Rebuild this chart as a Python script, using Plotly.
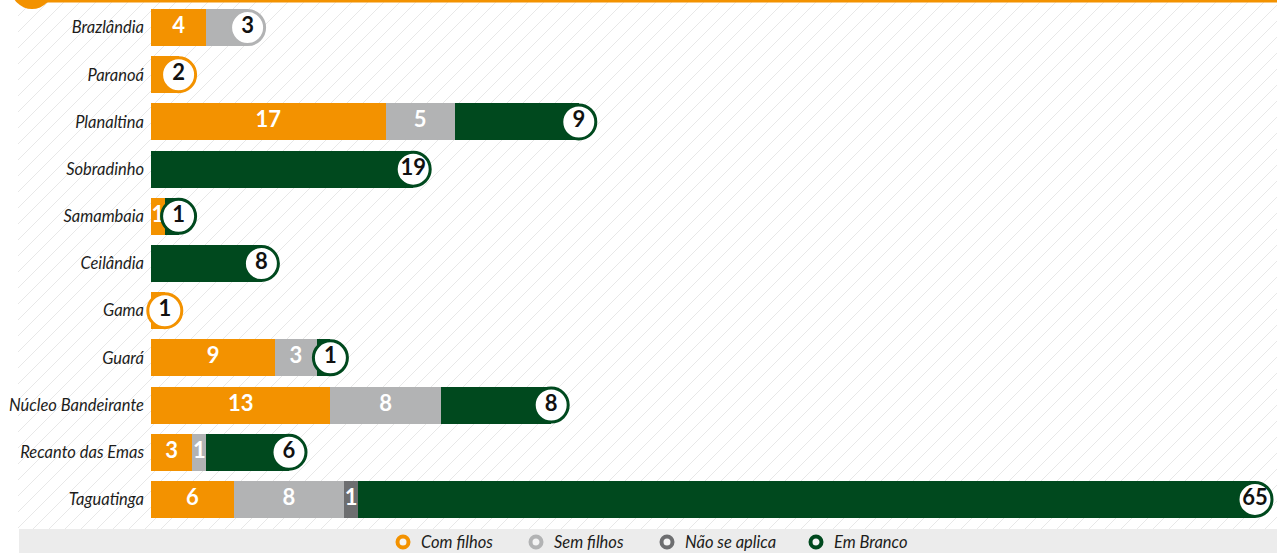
import plotly.graph_objects as go

# ── Dados ────────────────────────────────────────────────────────────────────
categorias = ["Brazlândia", "Paranoá", "Planaltina", "Sobradinho", "Samambaia",
              "Ceilândia", "Gama", "Guará", "Núcleo Bandeirante",
              "Recanto das Emas", "Taguatinga"]
com_filhos    = [4, 2, 17, 0, 1, 0, 1, 9, 13, 3, 6]
sem_filhos    = [3, 0, 5, 0, 0, 0, 0, 3, 8, 1, 8]
nao_se_aplica = [0, 0, 0, 0, 0, 0, 0, 0, 0, 0, 1]
em_branco     = [0, 0, 9, 19, 1, 8, 0, 1, 8, 6, 65]

series = [
    ("Com filhos", com_filhos, "#f39200"),
    ("Sem filhos", sem_filhos, "#b2b3b4"),
    ("Não se aplica", nao_se_aplica, "#6d6e70"),
    ("Em Branco", em_branco, "#00491e"),
]

# ── Geometria (px) ───────────────────────────────────────────────────────────
W, H = 1277, 553
L, R, T, B = 151, 0, 4, 30
PW, PH = W - L - R, H - T - B
FONT = "Lato"


def px(x):
    return (x - L) / PW


def py(y):
    return (H - B - y) / PH


fig = go.Figure()

for nome, vals, cor in series:
    fig.add_trace(go.Bar(
        y=categorias, x=vals, orientation="h", name=nome,
        marker=dict(color=cor, line_width=0), width=0.785,
        showlegend=False, hoverinfo="skip",
    ))

# rótulos dentro dos segmentos + círculo no fim da barra
seg_x, seg_y, seg_t = [], [], []
fim_x, fim_y, fim_t, fim_c = [], [], [], []
for i, cat in enumerate(categorias):
    vals = [s[1][i] for s in series]
    ult = max(k for k, v in enumerate(vals) if v > 0)
    ini = 0
    for k, v in enumerate(vals):
        if v > 0 and k != ult:
            seg_x.append(ini + v / 2)
            seg_y.append(cat)
            seg_t.append(str(v))
        ini += v
    fim_x.append(ini)
    fim_y.append(cat)
    fim_t.append(str(vals[ult]))
    fim_c.append(series[ult][2])

fig.add_trace(go.Scatter(
    x=seg_x, y=seg_y, text=seg_t, mode="text",
    textfont=dict(family=FONT, size=22, color="#ffffff", weight="bold"),
    showlegend=False, hoverinfo="skip", cliponaxis=False,
))
fig.add_trace(go.Scatter(
    x=fim_x, y=fim_y, text=fim_t, mode="markers+text",
    marker=dict(size=34, color="#ffffff", line=dict(color=fim_c, width=3)),
    textposition="middle center",
    textfont=dict(family=FONT, size=22, color="#111111", weight="bold"),
    showlegend=False, hoverinfo="skip", cliponaxis=False,
))

# ── Fundo hachurado, faixa da legenda e detalhe superior ─────────────────────
shapes = []
x0, x1, y0, y1 = 18, W, 0, 529
c = x0
while c < x1 + y1:
    ax, ay = c - y1, y1
    if ax < x0:
        ax, ay = x0, c - x0
    bx, by = c, y0
    if bx > x1:
        bx, by = x1, c - x1
    if ay > by:
        shapes.append(dict(type="line", xref="paper", yref="paper",
                           x0=px(ax), y0=py(ay), x1=px(bx), y1=py(by),
                           line=dict(color="#e8e8e8", width=1), layer="below"))
    c += 16

shapes.append(dict(type="rect", xref="paper", yref="paper",
                   x0=px(19), x1=px(W + 2), y0=py(529), y1=py(H + 2),
                   fillcolor="#ececec", line_width=0, layer="below"))
shapes.append(dict(type="line", xref="paper", yref="paper",
                   x0=px(40), x1=px(W + 2), y0=py(1), y1=py(1),
                   line=dict(color="#f39200", width=3), layer="below"))
shapes.append(dict(type="circle", xref="paper", yref="paper",
                   x0=px(11), x1=px(53), y0=py(-33), y1=py(9),
                   fillcolor="#f39200", line_width=0, layer="below"))

# legenda desenhada à mão (anel + texto)
leg_x = [403, 536, 667, 816]
annotations = []
for (nome, _, cor), lx in zip(series, leg_x):
    shapes.append(dict(type="circle", xref="paper", yref="paper",
                       x0=px(lx - 5.5), x1=px(lx + 5.5),
                       y0=py(542 + 5.5), y1=py(542 - 5.5),
                       fillcolor="#f4f4f4", line=dict(color=cor, width=4),
                       layer="above"))
    annotations.append(dict(xref="paper", yref="paper", x=px(lx + 16),
                            y=py(542), xanchor="left", yanchor="middle",
                            text=nome, showarrow=False,
                            font=dict(family=FONT, size=16.5, color="#1d1d1b",
                                      style="italic")))

fig.update_layout(
    width=W, height=H,
    margin=dict(l=L, r=R, t=T, b=B, autoexpand=False),
    paper_bgcolor="#ffffff", plot_bgcolor="rgba(0,0,0,0)",
    barmode="stack", bargap=0,
    shapes=shapes, annotations=annotations,
    xaxis=dict(visible=False, range=[0, PW / 13.8], fixedrange=True),
    yaxis=dict(categoryorder="array", categoryarray=categorias,
               range=[len(categorias) - 0.5, -0.5],
               showgrid=False, zeroline=False,
               showline=False, ticks="", ticklabelstandoff=6,
               tickfont=dict(family=FONT, size=16.5, color="#1d1d1b", style="italic"),
               fixedrange=True),
    showlegend=False,
)

fig.write_html("out.html", config={"displayModeBar": False},
               post_script="document.body.style.margin='0';")
